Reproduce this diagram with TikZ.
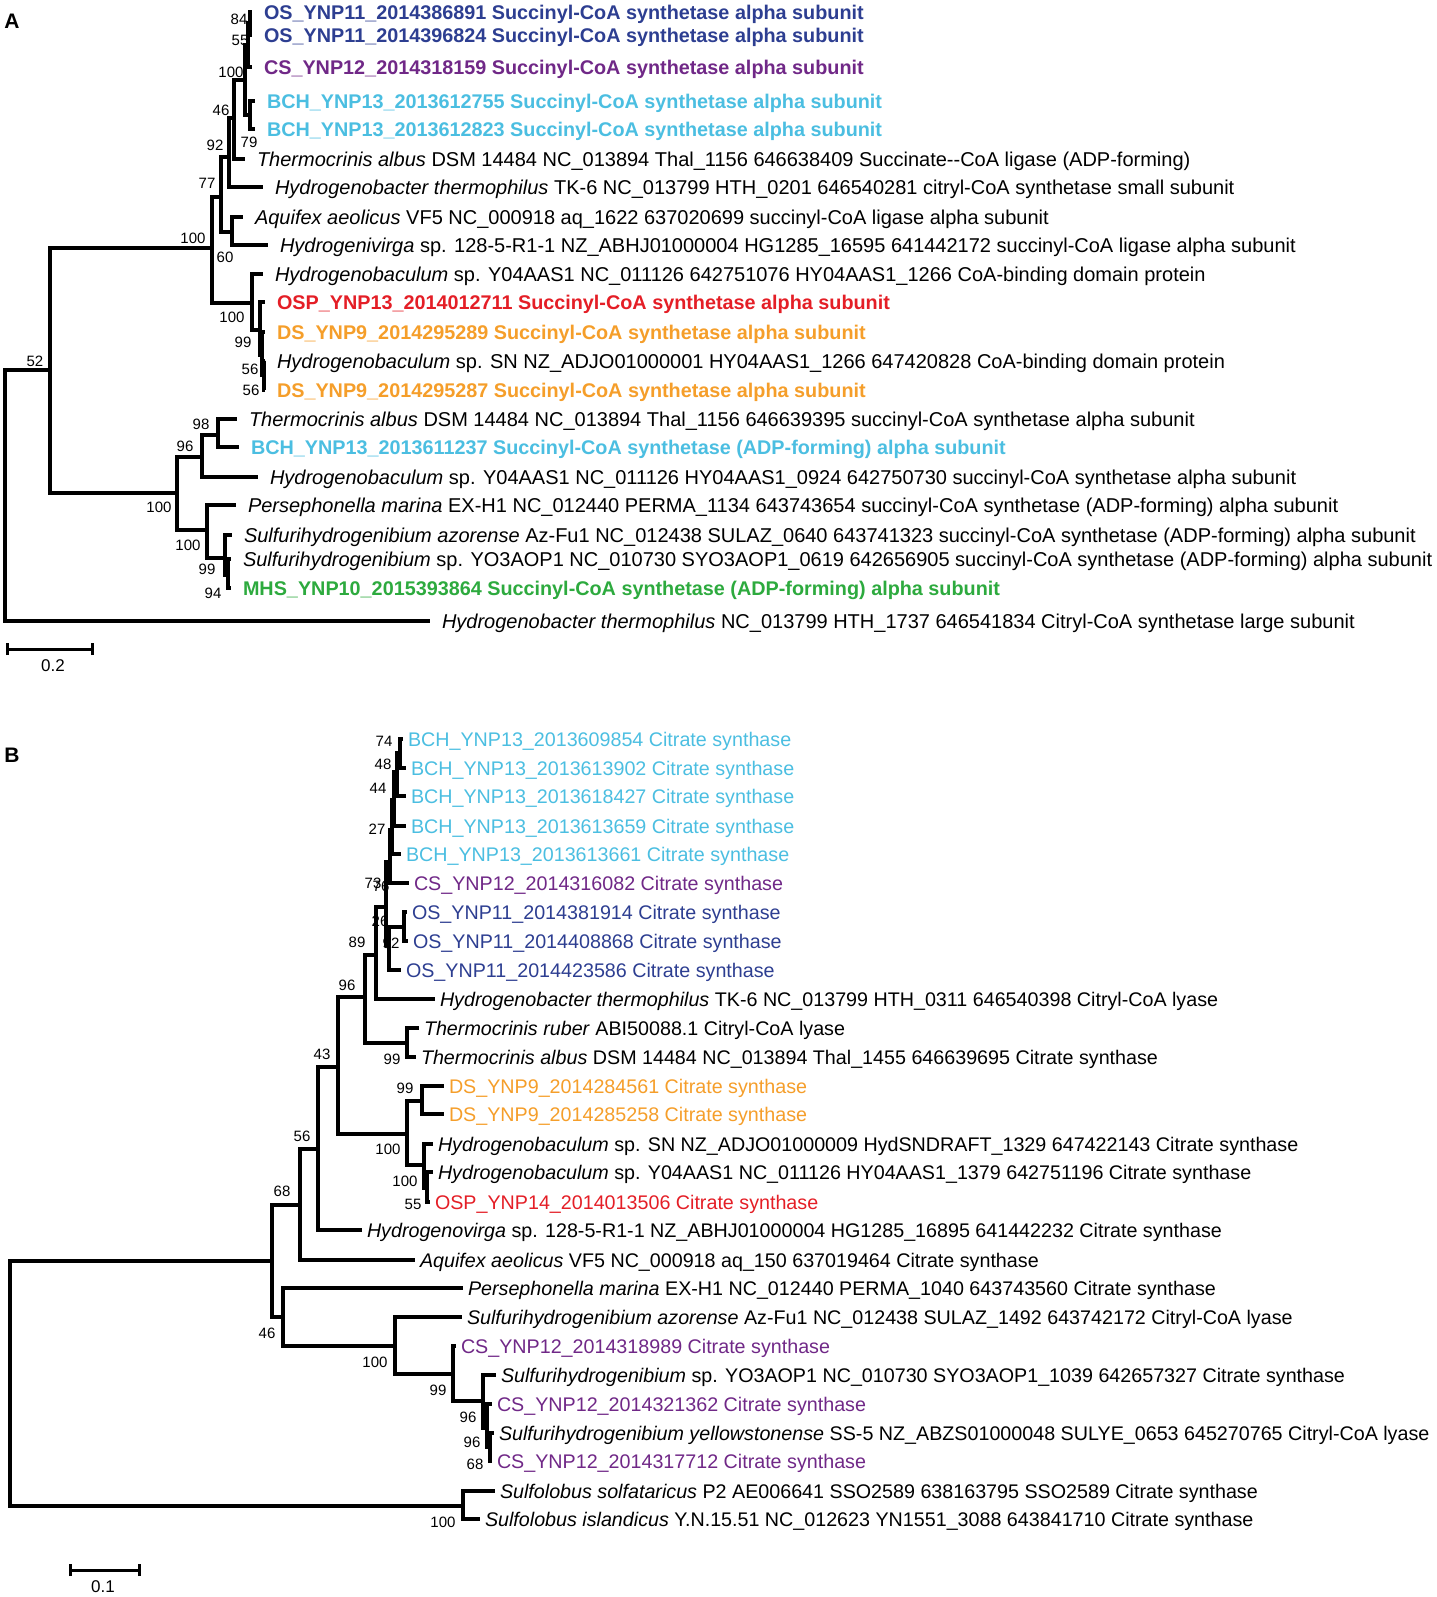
\documentclass[tikz,border=0pt]{standalone}
\usepackage{fontspec}
\setmainfont{Liberation Sans}
\definecolor{osblue}{RGB}{45,62,145}
\definecolor{cspurple}{RGB}{112,40,135}
\definecolor{bchcyan}{RGB}{75,190,225}
\definecolor{ospred}{RGB}{228,30,38}
\definecolor{dsorange}{RGB}{245,158,42}
\definecolor{mhsgreen}{RGB}{45,170,62}
\tikzset{
  branch/.style={line width=4.5pt},
  leafA/.style={anchor=west,inner sep=0pt,outer xsep=12pt,text height=14.4pt,text depth=0pt,font=\fontsize{20pt}{21pt}\selectfont},
  tagA/.style={leafA,font=\fontsize{19.8pt}{21pt}\selectfont\bfseries},
  leafB/.style={leafA,outer xsep=5pt,text height=14.2pt,font=\fontsize{19.7pt}{21pt}\selectfont},
  boot/.style={inner sep=0pt,font=\fontsize{15pt}{16pt}\selectfont},
  panel/.style={inner sep=0pt,font=\fontsize{21pt}{22pt}\selectfont\bfseries}
}
\begin{document}
\begin{tikzpicture}[x=1pt,y=-1pt,line join=miter]
\useasboundingbox (0,0) rectangle (1436,1597);
\node[panel] (labA) at (12,21) {A};
\node[panel] (labB) at (12,755) {B};

\coordinate (rootA) at (5,496);
\coordinate (nA52) at (50,370);
\coordinate (nA100) at (212,248);
\coordinate (nA77) at (221,197);
\coordinate (nA92) at (229,157);
\coordinate (nA46) at (234,118);
\coordinate (nA100a) at (245,80);
\coordinate (nA55) at (248,45);
\coordinate (nA84) at (250,23);
\coordinate (nA79) at (250,115);
\coordinate (nA60) at (232,232);
\coordinate (nAo) at (252,303);
\coordinate (nAo99) at (260,330);
\coordinate (nAo56) at (262,355);
\coordinate (nAo56b) at (264,375);
\coordinate (nA100b) at (177,493);
\coordinate (nA96) at (202,457);
\coordinate (nA98) at (218,435);
\coordinate (nA100c) at (207,530);
\coordinate (nA99) at (225,558);
\coordinate (nA94) at (228,575);

\node[tagA,text=osblue] (osA1) at (252,12) {OS\_YNP11\_2014386891 Succinyl-CoA synthetase alpha subunit};
\node[tagA,text=osblue] (osA2) at (252,35) {OS\_YNP11\_2014396824 Succinyl-CoA synthetase alpha subunit};
\node[tagA,text=cspurple] (csA1) at (252,67) {CS\_YNP12\_2014318159 Succinyl-CoA synthetase alpha subunit};
\node[tagA,text=bchcyan] (bchA1) at (255,101) {BCH\_YNP13\_2013612755 Succinyl-CoA synthetase alpha subunit};
\node[tagA,text=bchcyan] (bchA2) at (255,129) {BCH\_YNP13\_2013612823 Succinyl-CoA synthetase alpha subunit};
\node[leafA] (thalA1) at (245,159) {\textit{Thermocrinis albus} DSM 14484 NC\_013894 Thal\_1156 646638409 Succinate-{}-CoA ligase (ADP-forming)};
\node[leafA] (hythA1) at (263,187) {\textit{Hydrogenobacter thermophilus} TK-6 NC\_013799 HTH\_0201 646540281 citryl-CoA synthetase small subunit};
\node[leafA] (aqaeA) at (243,217) {\textit{Aquifex aeolicus} VF5 NC\_000918 aq\_1622 637020699 succinyl-CoA ligase alpha subunit};
\node[leafA] (hyviA) at (268,245) {\textit{Hydrogenivirga} sp. 128-5-R1-1 NZ\_ABHJ01000004 HG1285\_16595 641442172 succinyl-CoA ligase alpha subunit};
\node[leafA] (hybaA1) at (263,274) {\textit{Hydrogenobaculum} sp. Y04AAS1 NC\_011126 642751076 HY04AAS1\_1266 CoA-binding domain protein};
\node[tagA,text=ospred] (ospA) at (265,302) {OSP\_YNP13\_2014012711 Succinyl-CoA synthetase alpha subunit};
\node[tagA,text=dsorange] (dsA1) at (265,332) {DS\_YNP9\_2014295289 Succinyl-CoA synthetase alpha subunit};
\node[leafA] (hybaA2) at (265,361) {\textit{Hydrogenobaculum} sp. SN NZ\_ADJO01000001 HY04AAS1\_1266 647420828 CoA-binding domain protein};
\node[tagA,text=dsorange] (dsA2) at (265,390) {DS\_YNP9\_2014295287 Succinyl-CoA synthetase alpha subunit};
\node[leafA] (thalA2) at (237,419) {\textit{Thermocrinis albus} DSM 14484 NC\_013894 Thal\_1156 646639395 succinyl-CoA synthetase alpha subunit};
\node[tagA,text=bchcyan] (bchA3) at (239,447) {BCH\_YNP13\_2013611237 Succinyl-CoA synthetase (ADP-forming) alpha subunit};
\node[leafA] (hybaA3) at (258,477) {\textit{Hydrogenobaculum} sp. Y04AAS1 NC\_011126 HY04AAS1\_0924 642750730 succinyl-CoA synthetase alpha subunit};
\node[leafA] (pemaA) at (236,505) {\textit{Persephonella marina} EX-H1 NC\_012440 PERMA\_1134 643743654 succinyl-CoA synthetase (ADP-forming) alpha subunit};
\node[leafA] (suazA) at (232,535) {\textit{Sulfurihydrogenibium azorense} Az-Fu1 NC\_012438 SULAZ\_0640 643741323 succinyl-CoA synthetase (ADP-forming) alpha subunit};
\node[leafA] (suspA) at (231,559) {\textit{Sulfurihydrogenibium} sp. YO3AOP1 NC\_010730 SYO3AOP1\_0619 642656905 succinyl-CoA synthetase (ADP-forming) alpha subunit};
\node[tagA,text=mhsgreen] (mhsA) at (231,588) {MHS\_YNP10\_2015393864 Succinyl-CoA synthetase (ADP-forming) alpha subunit};
\node[leafA] (hythA2) at (430,621) {\textit{Hydrogenobacter thermophilus} NC\_013799 HTH\_1737 646541834 Citryl-CoA synthetase large subunit};

\foreach \p/\c in {rootA/nA52, rootA/hythA2, nA52/nA100, nA52/nA100b, nA100/nA77, nA100/nAo,
  nA77/nA92, nA77/nA60, nA92/nA46, nA92/hythA1, nA46/nA100a, nA46/thalA1, nA100a/nA55, nA100a/nA79,
  nA55/nA84, nA55/csA1, nA84/osA1, nA84/osA2, nA79/bchA1, nA79/bchA2, nA60/aqaeA, nA60/hyviA,
  nAo/hybaA1, nAo/nAo99, nAo99/ospA, nAo99/nAo56, nAo56/dsA1, nAo56/nAo56b, nAo56b/hybaA2, nAo56b/dsA2,
  nA100b/nA96, nA100b/nA100c, nA96/nA98, nA96/hybaA3, nA98/thalA2, nA98/bchA3,
  nA100c/pemaA, nA100c/nA99, nA99/suazA, nA99/nA94, nA94/suspA, nA94/mhsA}
  \draw[branch] (\p) |- (\c);

\foreach \x/\y/\t [count=\i] in {239/19/84, 240/40/55, 231/72/100, 221/110/46, 249/142/79, 215/145/92,
  207/183/77, 193/238/100, 225/257/60, 232/317/100, 243/342/99, 250/369/56, 251/390/56, 35/361/52,
  201/424/98, 185/446/96, 159/507/100, 188/545/100, 207/569/99, 213/593/94}
  \node[boot] (bA\i) at (\x,\y) {\t};

\coordinate (sbA1) at (7,649);
\coordinate (sbA2) at (92,649);
\draw[line width=3pt] (sbA1) -- (sbA2);
\draw[line width=3pt] ([yshift=-6pt]sbA1) -- ([yshift=6pt]sbA1);
\draw[line width=3pt] ([yshift=-6pt]sbA2) -- ([yshift=6pt]sbA2);
\node[boot,font=\fontsize{17pt}{18pt}\selectfont] (sbAt) at (53,666) {0.2};

\coordinate (rootB) at (10,1380);
\coordinate (nBsf) at (463,1506);
\coordinate (nBin) at (272,1261);
\coordinate (nB68) at (300,1205);
\coordinate (nB56) at (318,1149);
\coordinate (nB43) at (338,1067);
\coordinate (nB96) at (365,997);
\coordinate (nB99t) at (407,1043);
\coordinate (nB89) at (376,955);
\coordinate (nB73) at (386,907);
\coordinate (nB26) at (389,945);
\coordinate (nB92) at (404,927);
\coordinate (nB76) at (390,862);
\coordinate (nB27) at (392,830);
\coordinate (nB44) at (394,800);
\coordinate (nB48) at (397,772);
\coordinate (nB74) at (400,753);
\coordinate (nB100h) at (407,1134);
\coordinate (nB99d) at (422,1101);
\coordinate (nB100s) at (424,1165);
\coordinate (nB55) at (427,1188);
\coordinate (nB46) at (283,1317);
\coordinate (nB100p) at (395,1346);
\coordinate (nB99s) at (453,1374);
\coordinate (nB96a) at (483,1401);
\coordinate (nB96b) at (487,1428);
\coordinate (nB68s) at (490,1447);

\node[leafB,text=bchcyan] (bchB1) at (403,739) {BCH\_YNP13\_2013609854 Citrate synthase};
\node[leafB,text=bchcyan] (bchB2) at (406,768) {BCH\_YNP13\_2013613902 Citrate synthase};
\node[leafB,text=bchcyan] (bchB3) at (406,796) {BCH\_YNP13\_2013618427 Citrate synthase};
\node[leafB,text=bchcyan] (bchB4) at (406,826) {BCH\_YNP13\_2013613659 Citrate synthase};
\node[leafB,text=bchcyan] (bchB5) at (401,854) {BCH\_YNP13\_2013613661 Citrate synthase};
\node[leafB,text=cspurple] (csB1) at (409,883) {CS\_YNP12\_2014316082 Citrate synthase};
\node[leafB,text=osblue] (osB1) at (407,912) {OS\_YNP11\_2014381914 Citrate synthase};
\node[leafB,text=osblue] (osB2) at (408,941) {OS\_YNP11\_2014408868 Citrate synthase};
\node[leafB,text=osblue] (osB3) at (401,970) {OS\_YNP11\_2014423586 Citrate synthase};
\node[leafB] (hythB) at (435,999) {\textit{Hydrogenobacter thermophilus} TK-6 NC\_013799 HTH\_0311 646540398 Citryl-CoA lyase};
\node[leafB] (thruB) at (419,1028) {\textit{Thermocrinis ruber} ABI50088.1 Citryl-CoA lyase};
\node[leafB] (thalB) at (416,1057) {\textit{Thermocrinis albus} DSM 14484 NC\_013894 Thal\_1455 646639695 Citrate synthase};
\node[leafB,text=dsorange] (dsB1) at (444,1086) {DS\_YNP9\_2014284561 Citrate synthase};
\node[leafB,text=dsorange] (dsB2) at (444,1114) {DS\_YNP9\_2014285258 Citrate synthase};
\node[leafB] (hybaB1) at (433,1144) {\textit{Hydrogenobaculum} sp. SN NZ\_ADJO01000009 HydSNDRAFT\_1329 647422143 Citrate synthase};
\node[leafB] (hybaB2) at (433,1172) {\textit{Hydrogenobaculum} sp. Y04AAS1 NC\_011126 HY04AAS1\_1379 642751196 Citrate synthase};
\node[leafB,text=ospred] (ospB) at (430,1202) {OSP\_YNP14\_2014013506 Citrate synthase};
\node[leafB] (hyviB) at (362,1230) {\textit{Hydrogenovirga} sp. 128-5-R1-1 NZ\_ABHJ01000004 HG1285\_16895 641442232 Citrate synthase};
\node[leafB] (aqaeB) at (415,1260) {\textit{Aquifex aeolicus} VF5 NC\_000918 aq\_150 637019464 Citrate synthase};
\node[leafB] (pemaB) at (463,1288) {\textit{Persephonella marina} EX-H1 NC\_012440 PERMA\_1040 643743560 Citrate synthase};
\node[leafB] (suazB) at (462,1317) {\textit{Sulfurihydrogenibium azorense} Az-Fu1 NC\_012438 SULAZ\_1492 643742172 Citryl-CoA lyase};
\node[leafB,text=cspurple] (csB2) at (456,1346) {CS\_YNP12\_2014318989 Citrate synthase};
\node[leafB] (suspB) at (496,1375) {\textit{Sulfurihydrogenibium} sp. YO3AOP1 NC\_010730 SYO3AOP1\_1039 642657327 Citrate synthase};
\node[leafB,text=cspurple] (csB3) at (492,1404) {CS\_YNP12\_2014321362 Citrate synthase};
\node[leafB] (suyeB) at (494,1433) {\textit{Sulfurihydrogenibium yellowstonense} SS-5 NZ\_ABZS01000048 SULYE\_0653 645270765 Citryl-CoA lyase};
\node[leafB,text=cspurple] (csB4) at (492,1461) {CS\_YNP12\_2014317712 Citrate synthase};
\node[leafB] (ssolB) at (495,1491) {\textit{Sulfolobus solfataricus} P2 AE006641 SSO2589 638163795 SSO2589 Citrate synthase};
\node[leafB] (sislB) at (480,1519) {\textit{Sulfolobus islandicus} Y.N.15.51 NC\_012623 YN1551\_3088 643841710 Citrate synthase};

\foreach \p/\c in {rootB/nBin, rootB/nBsf, nBsf/ssolB, nBsf/sislB, nBin/nB68, nBin/nB46,
  nB68/nB56, nB68/aqaeB, nB56/nB43, nB56/hyviB, nB43/nB96, nB43/nB100h, nB96/nB89, nB96/nB99t,
  nB99t/thruB, nB99t/thalB, nB89/nB73, nB89/hythB, nB73/nB76, nB73/nB26, nB26/nB92, nB26/osB3,
  nB92/osB1, nB92/osB2, nB76/nB27, nB76/csB1, nB27/nB44, nB27/bchB5, nB44/nB48, nB44/bchB4,
  nB48/nB74, nB48/bchB3, nB74/bchB1, nB74/bchB2, nB100h/nB99d, nB100h/nB100s, nB99d/dsB1, nB99d/dsB2,
  nB100s/hybaB1, nB100s/nB55, nB55/hybaB2, nB55/ospB, nB46/pemaB, nB46/nB100p, nB100p/suazB,
  nB100p/nB99s, nB99s/csB2, nB99s/nB96a, nB96a/suspB, nB96a/nB96b, nB96b/csB3, nB96b/nB68s,
  nB68s/suyeB, nB68s/csB4}
  \draw[branch] (\p) |- (\c);

\foreach \x/\y/\t [count=\i] in {384/741/74, 383/764/48, 378/788/44, 377/829/27, 373/883/73, 381/886/76,
  380/921/26, 357/942/89, 391/943/92, 347/985/96, 392/1059/99, 322/1054/43, 405/1088/99, 388/1149/100,
  405/1181/100, 413/1204/55, 302/1136/56, 282/1191/68, 267/1333/46, 375/1362/100, 438/1390/99,
  468/1417/96, 472/1442/96, 475/1464/68, 443/1522/100}
  \node[boot] (bB\i) at (\x,\y) {\t};

\coordinate (sbB1) at (70,1570);
\coordinate (sbB2) at (139,1570);
\draw[line width=3pt] (sbB1) -- (sbB2);
\draw[line width=3pt] ([yshift=-6pt]sbB1) -- ([yshift=6pt]sbB1);
\draw[line width=3pt] ([yshift=-6pt]sbB2) -- ([yshift=6pt]sbB2);
\node[boot,font=\fontsize{17pt}{18pt}\selectfont] (sbBt) at (103,1587) {0.1};
\end{tikzpicture}
\end{document}
